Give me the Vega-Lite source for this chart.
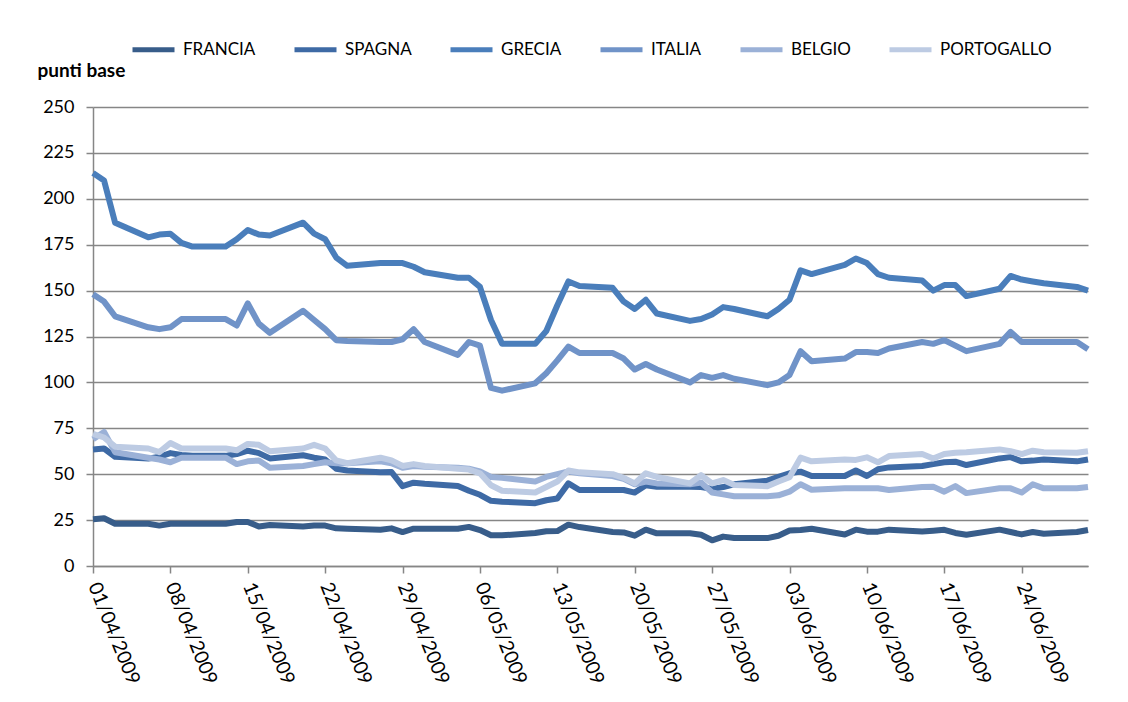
{
  "$schema": "https://vega.github.io/schema/vega-lite/v6.json",
  "width": 995,
  "height": 459,
  "autosize": {"type": "none"},
  "padding": {"left": 93, "top": 107, "right": 40, "bottom": 136},
  "background": "white",
  "config": {
    "view": {"stroke": null},
    "font": "Lato",
    "axis": {"labelFont": "Lato", "titleFont": "Lato", "labelColor": "#000000", "titleColor": "#000000"},
    "legend": {"labelFont": "Lato", "labelColor": "#000000"}
  },
  "data": {
    "values": [
      {"d":"2009-04-01","FRANCIA":25.5,"SPAGNA":63.5,"GRECIA":214,"ITALIA":148,"BELGIO":69,"PORTOGALLO":72},
      {"d":"2009-04-02","FRANCIA":26,"SPAGNA":64,"GRECIA":210,"ITALIA":144,"BELGIO":73,"PORTOGALLO":70},
      {"d":"2009-04-03","FRANCIA":23,"SPAGNA":59.5,"GRECIA":187,"ITALIA":136,"BELGIO":62,"PORTOGALLO":65},
      {"d":"2009-04-06","FRANCIA":23,"SPAGNA":58.5,"GRECIA":179,"ITALIA":130,"BELGIO":59,"PORTOGALLO":64},
      {"d":"2009-04-07","FRANCIA":22,"SPAGNA":59.5,"GRECIA":180.5,"ITALIA":129,"BELGIO":58,"PORTOGALLO":62},
      {"d":"2009-04-08","FRANCIA":23,"SPAGNA":61.5,"GRECIA":181,"ITALIA":130,"BELGIO":56.5,"PORTOGALLO":67},
      {"d":"2009-04-09","FRANCIA":23,"SPAGNA":60.5,"GRECIA":176,"ITALIA":134.5,"BELGIO":59,"PORTOGALLO":64},
      {"d":"2009-04-10","FRANCIA":23,"SPAGNA":60,"GRECIA":174,"ITALIA":134.5,"BELGIO":59,"PORTOGALLO":64},
      {"d":"2009-04-13","FRANCIA":23,"SPAGNA":60,"GRECIA":174,"ITALIA":134.5,"BELGIO":59,"PORTOGALLO":64},
      {"d":"2009-04-14","FRANCIA":24,"SPAGNA":61,"GRECIA":178,"ITALIA":131,"BELGIO":55.5,"PORTOGALLO":63},
      {"d":"2009-04-15","FRANCIA":24,"SPAGNA":62.8,"GRECIA":183,"ITALIA":143,"BELGIO":57,"PORTOGALLO":66.5},
      {"d":"2009-04-16","FRANCIA":21.5,"SPAGNA":61.5,"GRECIA":180.5,"ITALIA":132,"BELGIO":57.5,"PORTOGALLO":66},
      {"d":"2009-04-17","FRANCIA":22.3,"SPAGNA":58.6,"GRECIA":180,"ITALIA":127,"BELGIO":53.5,"PORTOGALLO":62.5},
      {"d":"2009-04-20","FRANCIA":21.5,"SPAGNA":60.3,"GRECIA":187,"ITALIA":139,"BELGIO":54.5,"PORTOGALLO":64},
      {"d":"2009-04-21","FRANCIA":22,"SPAGNA":59,"GRECIA":181,"ITALIA":134,"BELGIO":55.5,"PORTOGALLO":66},
      {"d":"2009-04-22","FRANCIA":22,"SPAGNA":58,"GRECIA":178,"ITALIA":129,"BELGIO":56.5,"PORTOGALLO":64},
      {"d":"2009-04-23","FRANCIA":20.5,"SPAGNA":53,"GRECIA":168,"ITALIA":123,"BELGIO":56,"PORTOGALLO":57.5},
      {"d":"2009-04-24","FRANCIA":20.3,"SPAGNA":52,"GRECIA":163.5,"ITALIA":122.5,"BELGIO":56,"PORTOGALLO":56},
      {"d":"2009-04-27","FRANCIA":19.8,"SPAGNA":51,"GRECIA":165,"ITALIA":122,"BELGIO":57,"PORTOGALLO":59},
      {"d":"2009-04-28","FRANCIA":20.5,"SPAGNA":51.2,"GRECIA":165,"ITALIA":122,"BELGIO":56,"PORTOGALLO":57.5},
      {"d":"2009-04-29","FRANCIA":18.5,"SPAGNA":43.5,"GRECIA":165,"ITALIA":123.5,"BELGIO":53.5,"PORTOGALLO":54.5},
      {"d":"2009-04-30","FRANCIA":20.3,"SPAGNA":45.4,"GRECIA":163,"ITALIA":129,"BELGIO":54.5,"PORTOGALLO":55.5},
      {"d":"2009-05-01","FRANCIA":20.3,"SPAGNA":44.8,"GRECIA":160,"ITALIA":122,"BELGIO":54,"PORTOGALLO":54.5},
      {"d":"2009-05-04","FRANCIA":20.3,"SPAGNA":43.6,"GRECIA":157,"ITALIA":115,"BELGIO":53.5,"PORTOGALLO":53},
      {"d":"2009-05-05","FRANCIA":21.3,"SPAGNA":41,"GRECIA":157,"ITALIA":122,"BELGIO":53,"PORTOGALLO":52.5},
      {"d":"2009-05-06","FRANCIA":19.6,"SPAGNA":38.8,"GRECIA":152,"ITALIA":120,"BELGIO":51.5,"PORTOGALLO":50.5},
      {"d":"2009-05-07","FRANCIA":16.8,"SPAGNA":35.5,"GRECIA":134,"ITALIA":97,"BELGIO":48.5,"PORTOGALLO":44},
      {"d":"2009-05-08","FRANCIA":16.7,"SPAGNA":35,"GRECIA":121,"ITALIA":95.5,"BELGIO":48,"PORTOGALLO":41},
      {"d":"2009-05-11","FRANCIA":18,"SPAGNA":34.2,"GRECIA":121,"ITALIA":99.5,"BELGIO":46,"PORTOGALLO":40},
      {"d":"2009-05-12","FRANCIA":18.9,"SPAGNA":35.8,"GRECIA":128,"ITALIA":105,"BELGIO":48.5,"PORTOGALLO":43},
      {"d":"2009-05-13","FRANCIA":19,"SPAGNA":36.8,"GRECIA":142,"ITALIA":112,"BELGIO":50,"PORTOGALLO":46},
      {"d":"2009-05-14","FRANCIA":22.5,"SPAGNA":45,"GRECIA":155,"ITALIA":119.5,"BELGIO":51.5,"PORTOGALLO":52},
      {"d":"2009-05-15","FRANCIA":21.2,"SPAGNA":41.4,"GRECIA":152.5,"ITALIA":116,"BELGIO":50.5,"PORTOGALLO":51},
      {"d":"2009-05-18","FRANCIA":18.5,"SPAGNA":41.4,"GRECIA":151.5,"ITALIA":116,"BELGIO":49,"PORTOGALLO":50},
      {"d":"2009-05-19","FRANCIA":18.3,"SPAGNA":41.4,"GRECIA":144,"ITALIA":113,"BELGIO":47.5,"PORTOGALLO":48},
      {"d":"2009-05-20","FRANCIA":16.5,"SPAGNA":40,"GRECIA":140,"ITALIA":107,"BELGIO":44.5,"PORTOGALLO":45},
      {"d":"2009-05-21","FRANCIA":19.8,"SPAGNA":44,"GRECIA":145,"ITALIA":110,"BELGIO":46,"PORTOGALLO":50.5},
      {"d":"2009-05-22","FRANCIA":17.8,"SPAGNA":43.2,"GRECIA":137.5,"ITALIA":107,"BELGIO":45,"PORTOGALLO":48.5},
      {"d":"2009-05-25","FRANCIA":17.8,"SPAGNA":43.2,"GRECIA":133.5,"ITALIA":100,"BELGIO":44.5,"PORTOGALLO":45},
      {"d":"2009-05-26","FRANCIA":17,"SPAGNA":43,"GRECIA":134.5,"ITALIA":104,"BELGIO":45.5,"PORTOGALLO":49.5},
      {"d":"2009-05-27","FRANCIA":14,"SPAGNA":42,"GRECIA":137,"ITALIA":102.5,"BELGIO":40,"PORTOGALLO":45},
      {"d":"2009-05-28","FRANCIA":16,"SPAGNA":43,"GRECIA":141,"ITALIA":104,"BELGIO":39,"PORTOGALLO":46.8},
      {"d":"2009-05-29","FRANCIA":15.2,"SPAGNA":44.5,"GRECIA":140,"ITALIA":102,"BELGIO":38,"PORTOGALLO":44.1},
      {"d":"2009-06-01","FRANCIA":15.2,"SPAGNA":46.5,"GRECIA":136,"ITALIA":98.5,"BELGIO":38,"PORTOGALLO":43.5},
      {"d":"2009-06-02","FRANCIA":16.5,"SPAGNA":48.5,"GRECIA":140,"ITALIA":100,"BELGIO":38.5,"PORTOGALLO":46},
      {"d":"2009-06-03","FRANCIA":19.3,"SPAGNA":50.5,"GRECIA":145,"ITALIA":104,"BELGIO":40.5,"PORTOGALLO":48.3},
      {"d":"2009-06-04","FRANCIA":19.6,"SPAGNA":51.4,"GRECIA":161,"ITALIA":117,"BELGIO":44.5,"PORTOGALLO":59},
      {"d":"2009-06-05","FRANCIA":20.3,"SPAGNA":49,"GRECIA":159,"ITALIA":111.5,"BELGIO":41.5,"PORTOGALLO":57},
      {"d":"2009-06-08","FRANCIA":17.2,"SPAGNA":49,"GRECIA":164,"ITALIA":113,"BELGIO":42.3,"PORTOGALLO":58},
      {"d":"2009-06-09","FRANCIA":19.8,"SPAGNA":52,"GRECIA":167.5,"ITALIA":116.5,"BELGIO":42.3,"PORTOGALLO":57.8},
      {"d":"2009-06-10","FRANCIA":18.7,"SPAGNA":49,"GRECIA":165,"ITALIA":116.5,"BELGIO":42.3,"PORTOGALLO":59.2},
      {"d":"2009-06-11","FRANCIA":18.7,"SPAGNA":52.7,"GRECIA":159,"ITALIA":116,"BELGIO":42.3,"PORTOGALLO":56.5},
      {"d":"2009-06-12","FRANCIA":19.8,"SPAGNA":53.7,"GRECIA":157,"ITALIA":118.5,"BELGIO":41.4,"PORTOGALLO":59.9},
      {"d":"2009-06-15","FRANCIA":18.8,"SPAGNA":54.5,"GRECIA":155.5,"ITALIA":122,"BELGIO":43,"PORTOGALLO":61},
      {"d":"2009-06-16","FRANCIA":19.2,"SPAGNA":55.5,"GRECIA":150,"ITALIA":121,"BELGIO":43.2,"PORTOGALLO":58.5},
      {"d":"2009-06-17","FRANCIA":19.7,"SPAGNA":56.5,"GRECIA":153,"ITALIA":123,"BELGIO":40.5,"PORTOGALLO":61},
      {"d":"2009-06-18","FRANCIA":18,"SPAGNA":56.8,"GRECIA":153,"ITALIA":120,"BELGIO":43.5,"PORTOGALLO":61.7},
      {"d":"2009-06-19","FRANCIA":17,"SPAGNA":55,"GRECIA":147,"ITALIA":117,"BELGIO":39.7,"PORTOGALLO":62},
      {"d":"2009-06-22","FRANCIA":19.8,"SPAGNA":58.6,"GRECIA":151,"ITALIA":121,"BELGIO":42.3,"PORTOGALLO":63.5},
      {"d":"2009-06-23","FRANCIA":18.5,"SPAGNA":59.3,"GRECIA":158,"ITALIA":127.5,"BELGIO":42.3,"PORTOGALLO":62.5},
      {"d":"2009-06-24","FRANCIA":17.2,"SPAGNA":57,"GRECIA":156,"ITALIA":122,"BELGIO":40,"PORTOGALLO":61},
      {"d":"2009-06-25","FRANCIA":18.5,"SPAGNA":57.4,"GRECIA":155,"ITALIA":122,"BELGIO":44.5,"PORTOGALLO":62.8},
      {"d":"2009-06-26","FRANCIA":17.6,"SPAGNA":58,"GRECIA":154,"ITALIA":122,"BELGIO":42.3,"PORTOGALLO":62},
      {"d":"2009-06-29","FRANCIA":18.5,"SPAGNA":57,"GRECIA":152,"ITALIA":122,"BELGIO":42.3,"PORTOGALLO":61.7},
      {"d":"2009-06-30","FRANCIA":19.6,"SPAGNA":58,"GRECIA":150,"ITALIA":118,"BELGIO":43,"PORTOGALLO":62.5}
    ]
  },
  "transform": [
    {"fold": ["FRANCIA","SPAGNA","GRECIA","ITALIA","BELGIO","PORTOGALLO"], "as": ["serie","valore"]}
  ],
  "mark": {"type": "line", "strokeWidth": 6, "strokeJoin": "round", "strokeCap": "butt", "clip": false},
  "encoding": {
    "x": {
      "field": "d", "type": "temporal",
      "scale": {"type": "utc", "domain": [{"year":2009,"month":4,"date":1,"utc":true},{"year":2009,"month":6,"date":30,"utc":true}], "nice": false},
      "axis": {
        "title": null,
        "values": [
          {"year":2009,"month":4,"date":1,"utc":true},
          {"year":2009,"month":4,"date":8,"utc":true},
          {"year":2009,"month":4,"date":15,"utc":true},
          {"year":2009,"month":4,"date":22,"utc":true},
          {"year":2009,"month":4,"date":29,"utc":true},
          {"year":2009,"month":5,"date":6,"utc":true},
          {"year":2009,"month":5,"date":13,"utc":true},
          {"year":2009,"month":5,"date":20,"utc":true},
          {"year":2009,"month":5,"date":27,"utc":true},
          {"year":2009,"month":6,"date":3,"utc":true},
          {"year":2009,"month":6,"date":10,"utc":true},
          {"year":2009,"month":6,"date":17,"utc":true},
          {"year":2009,"month":6,"date":24,"utc":true}
        ],
        "format": "%d/%m/%Y",
        "labelAngle": 68,
        "labelAlign": "left",
        "labelBaseline": "middle",
        "labelPadding": 10,
        "labelFontSize": 19.5,
        "labelOverlap": false,
        "labelFlush": false,
        "tickSize": 7,
        "tickWidth": 1.5,
        "tickColor": "#868686",
        "domainColor": "#868686",
        "domainWidth": 1.5,
        "grid": false
      }
    },
    "y": {
      "field": "valore", "type": "quantitative",
      "scale": {"domain": [0, 250], "nice": false, "zero": true},
      "axis": {
        "values": [0,25,50,75,100,125,150,175,200,225,250],
        "title": "punti base",
        "titleAngle": 0,
        "titleX": -56,
        "titleY": -37,
        "titleAlign": "left",
        "titleBaseline": "middle",
        "titleFontSize": 19,
        "titleFontWeight": "bold",
        "labelFontSize": 18,
        "labelPadding": 12,
        "tickSize": 7,
        "tickWidth": 1.5,
        "tickColor": "#868686",
        "domainColor": "#868686",
        "domainWidth": 1.5,
        "grid": true,
        "gridColor": "#868686",
        "gridWidth": 1.5
      }
    },
    "color": {
      "field": "serie", "type": "nominal",
      "scale": {
        "domain": ["FRANCIA","SPAGNA","GRECIA","ITALIA","BELGIO","PORTOGALLO"],
        "range": ["#385D8A","#3E6AA5","#4A7EBB","#7093C8","#9BB1D7","#BDCBE3"]
      },
      "legend": {
        "title": null,
        "orient": "none",
        "legendX": 37,
        "legendY": -81,
        "direction": "horizontal",
        "columns": 6,
        "columnPadding": 28,
        "padding": 0,
        "symbolType": "stroke",
        "symbolSize": 1764,
        "symbolStrokeWidth": 5,
        "labelFontSize": 17,
        "labelOffset": 6,
        "labelLimit": 300
      }
    }
  }
}
